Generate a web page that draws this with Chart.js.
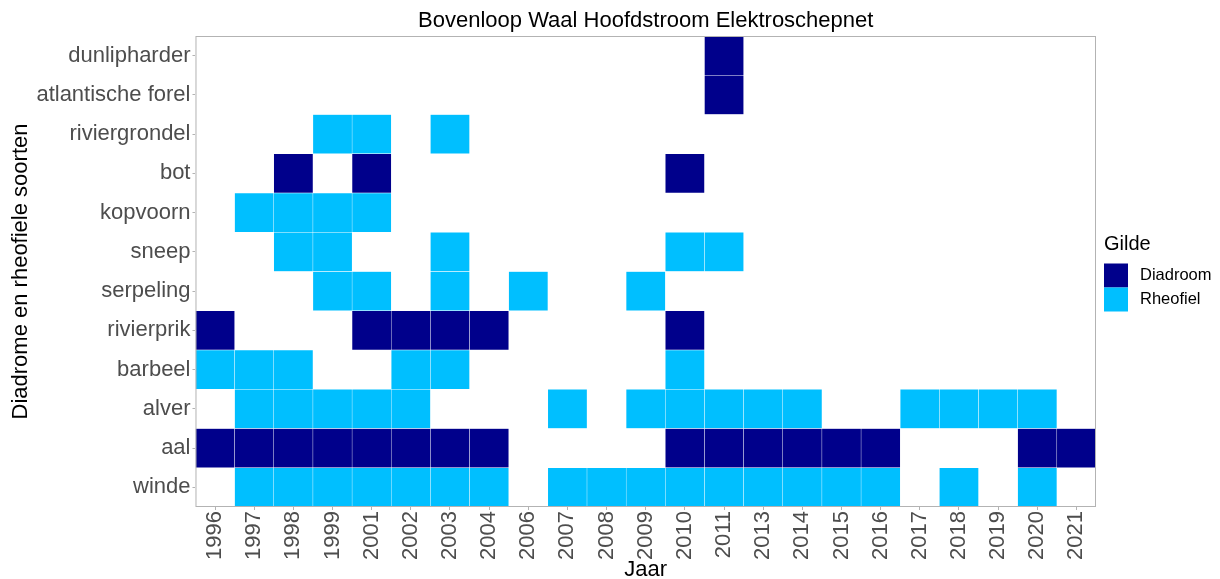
<!DOCTYPE html>
<html>
<head>
<meta charset="utf-8">
<script src="https://cdn.jsdelivr.net/npm/chart.js@4.4.1/dist/chart.umd.min.js"></script>
<style>
  html, body { margin: 0; padding: 0; background: #fff; }
  #wrap { width: 1220px; height: 579px; }
</style>
</head>
<body>
<div id="wrap"><canvas id="tegels"></canvas></div>
<script>
var jaren = ['1996', '1997', '1998', '1999', '2001', '2002', '2003', '2004', '2006', '2007', '2008',
  '2009', '2010', '2011', '2013', '2014', '2015', '2016', '2017', '2018', '2019', '2020', '2021'];

// van onder naar boven
var soorten = ['winde', 'aal', 'alver', 'barbeel', 'rivierprik', 'serpeling', 'sneep',
  'kopvoorn', 'bot', 'riviergrondel', 'atlantische forel', 'dunlipharder'];
var gilde = ['Rheofiel', 'Diadroom', 'Rheofiel', 'Rheofiel', 'Diadroom', 'Rheofiel', 'Rheofiel',
  'Rheofiel', 'Diadroom', 'Rheofiel', 'Diadroom', 'Diadroom'];
var gildes = ['Diadroom', 'Rheofiel'];

// jaren met vangst per soort
var winde = [1997, 1998, 1999, 2001, 2002, 2003, 2004, 2007, 2008, 2009, 2010, 2011, 2013, 2014, 2015, 2016, 2018, 2020];
var aal = [1996, 1997, 1998, 1999, 2001, 2002, 2003, 2004, 2010, 2011, 2013, 2014, 2015, 2016, 2020, 2021];
var alver = [1997, 1998, 1999, 2001, 2002, 2007, 2009, 2010, 2011, 2013, 2014, 2017, 2018, 2019, 2020];
var barbeel = [1996, 1997, 1998, 2002, 2003, 2010];
var rivierprik = [1996, 2001, 2002, 2003, 2004, 2010];
var serpeling = [1999, 2001, 2003, 2006, 2009];
var sneep = [1998, 1999, 2003, 2010, 2011];
var kopvoorn = [1997, 1998, 1999, 2001];
var bot = [1998, 2001, 2010];
var riviergrondel = [1999, 2001, 2003];
var atlantischeForel = [2011];
var dunlipharder = [2011];

var vangsten = [winde, aal, alver, barbeel, rivierprik, serpeling, sneep,
  kopvoorn, bot, riviergrondel, atlantischeForel, dunlipharder];

var kleuren = { Diadroom: '#00008b', Rheofiel: '#00bfff' };
var lettertype = '"Liberation Sans", Arial, sans-serif';

// elke soort een eigen rij: zwevende balk van i tot i + 1
var datasets = soorten.map(function (soort, i) {
  return {
    label: soort,
    data: jaren.map(function (j) {
      return vangsten[i].indexOf(+j) >= 0 ? [i, i + 1] : null;
    }),
    backgroundColor: kleuren[gilde[i]],
    borderColor: 'rgba(255,255,255,0.6)',
    borderWidth: 0.5,
    borderSkipped: false,
    grouped: false,
    barPercentage: 1,
    categoryPercentage: 1
  };
});

// paneelrand, titel boven het paneel en legenda rechts ervan
var paneel = {
  id: 'paneel',
  afterDatasetsDraw: function (chart) {
    var ctx = chart.ctx, a = chart.chartArea;
    ctx.save();
    ctx.strokeStyle = '#b3b3b3';
    ctx.lineWidth = 1;
    ctx.strokeRect(a.left + 0.5, a.top + 0.5, a.right - a.left - 1, a.bottom - a.top - 1);

    ctx.fillStyle = '#000';
    ctx.textBaseline = 'alphabetic';
    ctx.textAlign = 'center';
    ctx.font = '22px ' + lettertype;
    ctx.fillText('Bovenloop Waal Hoofdstroom Elektroschepnet', (a.left + a.right) / 2, a.top - 9);

    var x = a.right + 8;
    var midden = (a.top + a.bottom) / 2;
    ctx.textAlign = 'left';
    ctx.font = '20px ' + lettertype;
    ctx.fillText('Gilde', x, midden - 22);
    ctx.font = '16.5px ' + lettertype;
    ctx.textBaseline = 'middle';
    gildes.forEach(function (g, k) {
      var y = midden - 8 + k * 24;
      ctx.fillStyle = kleuren[g];
      ctx.fillRect(x, y, 24, 24);
      ctx.fillStyle = '#000';
      ctx.fillText(g, x + 36, y + 12);
    });
    ctx.restore();
  }
};

new Chart(document.getElementById('tegels'), {
  type: 'bar',
  data: { labels: jaren, datasets: datasets },
  plugins: [paneel],
  options: {
    responsive: true,
    maintainAspectRatio: false,
    animation: false,
    layout: { padding: { top: 36, left: 0, right: 124, bottom: 0 } },
    plugins: {
      tooltip: { enabled: false },
      legend: { display: false }
    },
    scales: {
      x: {
        type: 'category',
        offset: true,
        afterFit: function (scale) { scale.height = 72; },
        grid: { display: true, drawOnChartArea: false, offset: false, tickLength: 3, color: '#b3b3b3' },
        border: { display: false },
        ticks: {
          autoSkip: false,
          minRotation: 90,
          maxRotation: 90,
          padding: 1,
          color: '#4d4d4d',
          font: { family: lettertype, size: 22 }
        },
        title: {
          display: true,
          text: 'Jaar',
          color: '#000',
          font: { family: lettertype, size: 22, lineHeight: 0.8 },
          padding: { top: 0, bottom: 0 }
        }
      },
      y: {
        type: 'linear',
        min: 0,
        max: soorten.length,
        afterBuildTicks: function (scale) {
          scale.ticks = soorten.map(function (s, i) { return { value: i + 0.5 }; });
        },
        grid: { display: true, drawOnChartArea: false, tickLength: 3, color: '#b3b3b3' },
        border: { display: false },
        ticks: {
          padding: 2,
          color: '#4d4d4d',
          font: { family: lettertype, size: 22 },
          callback: function (v) { return soorten[Math.floor(v)]; }
        },
        title: {
          display: true,
          text: 'Diadrome en rheofiele soorten',
          color: '#000',
          font: { family: lettertype, size: 22, lineHeight: 1.2 },
          padding: { top: 8, bottom: 0 }
        }
      }
    }
  }
});
</script>
</body>
</html>
